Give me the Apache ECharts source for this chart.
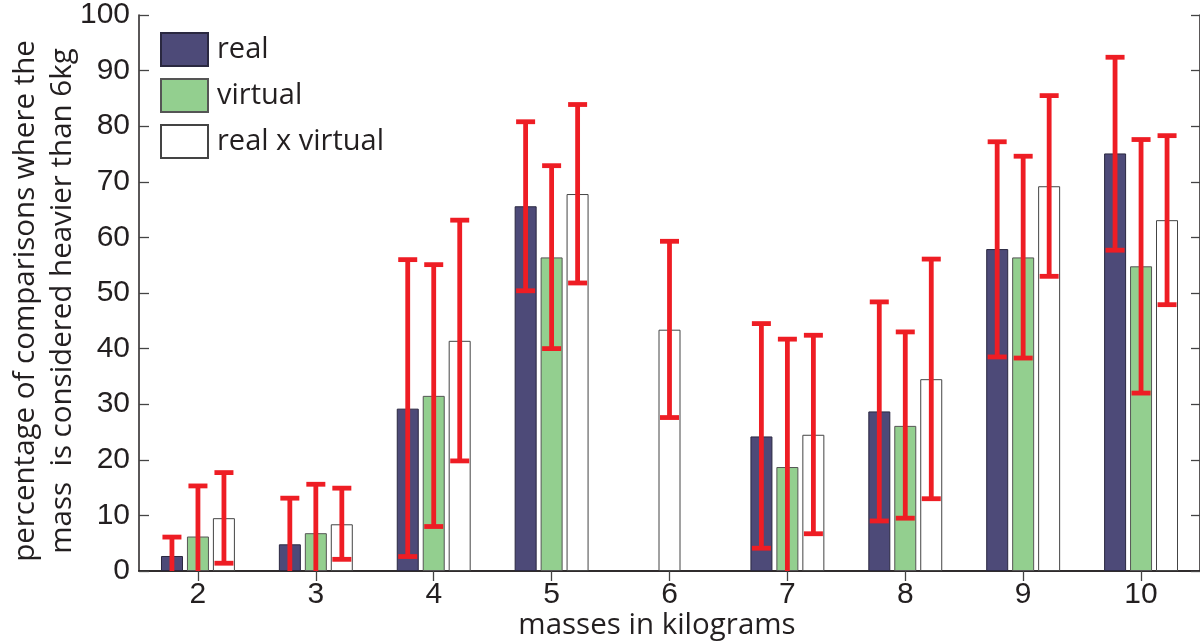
<!DOCTYPE html>
<html>
<head>
<meta charset="utf-8">
<title>masses in kilograms</title>
<script src="https://cdn.jsdelivr.net/npm/echarts@6/dist/echarts.min.js"></script>
<style>
    html, body { margin: 0; padding: 0; background: #fff; }
    #chart { width: 1200px; height: 644px; }
</style>
</head>
<body>
<div id="chart"></div>
<script>
// masses (kg) on the x axis
var categories = ['2', '3', '4', '5', '6', '7', '8', '9', '10'];
var yTicks = [0, 10, 20, 30, 40, 50, 60, 70, 80, 90, 100];

// bar heights, % of comparisons judged heavier than 6kg
var realVals = [2.7, 4.8, 29.2, 65.6, null, 24.2, 28.7, 57.9, 75.1];
var virtualVals = [6.2, 6.8, 31.5, 56.4, null, 18.7, 26.1, 56.4, 54.8];
var rxvVals = [9.5, 8.4, 41.4, 67.8, 43.4, 24.5, 34.5, 69.2, 63.1];

// error bar ends (lows below 0 get cut by the axis)
var realLow = [-0.8, -1.5, 2.6, 50.4, null, 4.1, 9.0, 38.5, 57.7];
var realHigh = [6.1, 13.1, 56.0, 80.8, null, 44.5, 48.4, 77.2, 92.4];
var virtualLow = [-3.0, -2.5, 8.0, 40.0, null, -4.3, 9.5, 38.3, 32.0];
var virtualHigh = [15.3, 15.6, 55.1, 72.9, null, 41.7, 43.0, 74.6, 77.6];
var rxvLow = [1.4, 2.1, 19.8, 51.8, 27.6, 6.7, 13.0, 53.0, 47.9];
var rxvHigh = [17.7, 14.9, 63.1, 83.9, 59.3, 42.4, 56.1, 85.5, 78.3];

var chart_page = {
    BAR_W : 22,
    BAR_STEP : 26,
    TITLE_FONT : '"Open Sans", "Noto Sans", sans-serif',
    TICK_FONT : '"Liberation Sans", Arial, sans-serif',
    /**
     * 页面初始化
     */
    init : function() {
        var chart = echarts.init(document.getElementById('chart'), null, { renderer : 'canvas' });
        chart.setOption(this.buildOption());
    },
    /**
     * categories where only "real x virtual" exists get a centred bar
     */
    isAlone : function(i) {
        return realVals[i] == null && virtualVals[i] == null;
    },
    /**
     * error bar rows: [category, low, high, slot]
     */
    errorRows : function() {
        var rows = [];
        for (var i = 0; i < categories.length; i++) {
            if (realLow[i] != null) {
                rows.push([ i, realLow[i], realHigh[i], -1 ]);
            }
            if (virtualLow[i] != null) {
                rows.push([ i, virtualLow[i], virtualHigh[i], 0 ]);
            }
            if (rxvLow[i] != null) {
                rows.push([ i, rxvLow[i], rxvHigh[i], chart_page.isAlone(i) ? 0 : 1 ]);
            }
        }
        return rows;
    },
    renderError : function(params, api) {
        var cat = api.value(0);
        var slot = api.value(3);
        var bottom = params.coordSys.y + params.coordSys.height;
        var lo = api.coord([ cat, api.value(1) ]);
        var hi = api.coord([ cat, api.value(2) ]);
        var x = lo[0] + slot * chart_page.BAR_STEP;
        var lw = 4.8, capW = 19;
        var yLo = Math.min(lo[1], bottom);
        var style = { fill : '#ee1d24' };
        var children = [ {
            type : 'rect',
            shape : { x : x - lw / 2, y : hi[1], width : lw, height : yLo - hi[1] },
            style : style
        }, {
            type : 'rect',
            shape : { x : x - capW / 2, y : hi[1] - lw / 2, width : capW, height : lw },
            style : style
        } ];
        if (lo[1] + lw / 2 < bottom) {
            children.push({
                type : 'rect',
                shape : { x : x - capW / 2, y : lo[1] - lw / 2, width : capW, height : lw },
                style : style
            });
        }
        return { type : 'group', children : children };
    },
    buildOption : function() {
        var self = this;
        var axisLine = { show : true, lineStyle : { color : '#231f20', width : 1.5 } };
        var tickLine = { color : '#444', width : 1.3 };
        var rxvMain = rxvVals.map(function(v, i) { return self.isAlone(i) ? null : v; });
        var rxvAlone = rxvVals.map(function(v, i) { return self.isAlone(i) ? v : null; });
        return {
            backgroundColor : '#fff',
            animation : false,
            grid : { left : 139, right : 0, top : 15, bottom : 73, outerBoundsMode : 'none', containLabel : false },
            legend : {
                orient : 'vertical',
                left : 160,
                top : 32,
                padding : 0,
                itemWidth : 47,
                itemHeight : 33,
                itemGap : 11,
                icon : 'rect',
                data : [ 'real', 'virtual', 'real x virtual' ],
                textStyle : {
                    fontFamily : self.TITLE_FONT,
                    fontSize : 29,
                    color : '#231f20',
                    padding : [ 0, 0, 0, 4 ]
                }
            },
            xAxis : [ {
                type : 'category',
                data : categories,
                position : 'bottom',
                axisLine : axisLine,
                axisTick : { show : false },
                axisLabel : {
                    margin : 9,
                    fontFamily : self.TICK_FONT,
                    fontSize : 30,
                    color : '#231f20'
                },
                name : 'masses in kilograms',
                nameLocation : 'middle',
                nameGap : 40,
                nameMoveOverlap : false,
                nameTextStyle : {
                    fontFamily : self.TITLE_FONT,
                    fontSize : 29.5,
                    color : '#231f20',
                    padding : [ 0, 25, 0, 0 ]
                }
            }, {
                type : 'category',
                data : categories,
                position : 'top',
                axisLine : axisLine,
                axisTick : { show : true, inside : true, length : 10, alignWithLabel : true, lineStyle : tickLine },
                axisLabel : { show : false }
            }, {
                type : 'category',
                data : categories,
                show : false
            } ],
            yAxis : [ {
                type : 'value',
                min : yTicks[0],
                max : yTicks[yTicks.length - 1],
                interval : 10,
                position : 'left',
                axisLine : axisLine,
                axisTick : { show : true, inside : true, length : 10, lineStyle : tickLine },
                splitLine : { show : false },
                axisLabel : {
                    margin : 9,
                    fontFamily : self.TICK_FONT,
                    fontSize : 30,
                    color : '#231f20'
                },
                name : 'percentage of comparisons where the\nmass  is considered heavier than 6kg',
                nameLocation : 'middle',
                nameRotate : 90,
                nameGap : 58,
                nameMoveOverlap : false,
                nameTextStyle : {
                    fontFamily : self.TITLE_FONT,
                    fontSize : 29.5,
                    lineHeight : 37,
                    color : '#231f20',
                    padding : [ 0, 16, 0, 0 ]
                }
            }, {
                type : 'value',
                min : yTicks[0],
                max : yTicks[yTicks.length - 1],
                interval : 10,
                position : 'right',
                axisLine : axisLine,
                axisTick : { show : true, inside : true, length : 9, lineStyle : tickLine },
                splitLine : { show : false },
                axisLabel : { show : false }
            } ],
            series : [ {
                name : 'real',
                type : 'bar',
                xAxisIndex : 0,
                barWidth : self.BAR_W,
                barGap : '18%',
                data : realVals,
                itemStyle : { color : '#4d4a78', borderColor : '#2a2840', borderWidth : 1 }
            }, {
                name : 'virtual',
                type : 'bar',
                xAxisIndex : 0,
                barWidth : self.BAR_W,
                barGap : '18%',
                data : virtualVals,
                itemStyle : { color : '#93cf8f', borderColor : '#555', borderWidth : 1 }
            }, {
                name : 'real x virtual',
                type : 'bar',
                xAxisIndex : 0,
                barWidth : self.BAR_W,
                barGap : '18%',
                data : rxvMain,
                itemStyle : { color : '#ffffff', borderColor : '#444', borderWidth : 1 }
            }, {
                name : 'real x virtual',
                type : 'bar',
                xAxisIndex : 2,
                barWidth : self.BAR_W,
                data : rxvAlone,
                itemStyle : { color : '#ffffff', borderColor : '#444', borderWidth : 1 }
            }, {
                name : 'error',
                type : 'custom',
                xAxisIndex : 0,
                z : 10,
                renderItem : self.renderError,
                encode : { x : 0, y : [ 1, 2 ] },
                data : self.errorRows()
            } ]
        };
    }
};

chart_page.init();
</script>
</body>
</html>
